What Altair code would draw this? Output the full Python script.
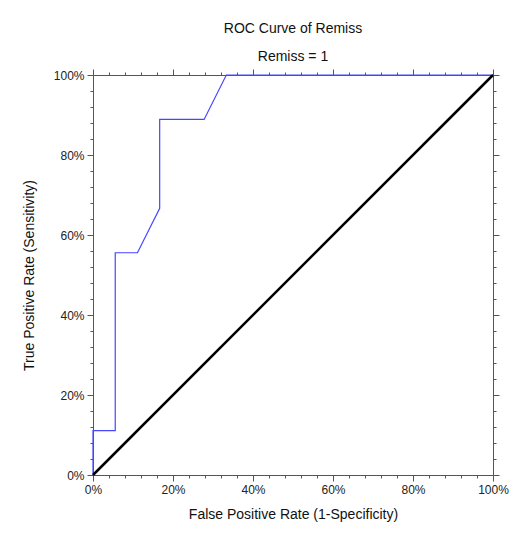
import altair as alt
import pandas as pd

# ROC curve points (False Positive Rate, True Positive Rate)
fpr = [0.0, 0.0, 0.0556, 0.0556, 0.1111, 0.1667, 0.1667, 0.2778, 0.3333, 1.0]
tpr = [0.0, 0.1111, 0.1111, 0.5556, 0.5556, 0.6667, 0.8889, 0.8889, 1.0, 1.0]
# reference diagonal
diag_x = [0.0, 1.0]
diag_y = [0.0, 1.0]
# tick positions (major every 20%, minor every 4%)
tick_values = [0.0, 0.04, 0.08, 0.12, 0.16, 0.2, 0.24, 0.28, 0.32, 0.36, 0.4,
               0.44, 0.48, 0.52, 0.56, 0.6, 0.64, 0.68, 0.72, 0.76, 0.8,
               0.84, 0.88, 0.92, 0.96, 1.0]

roc_df = pd.DataFrame({"fpr": fpr, "tpr": tpr, "idx": list(range(len(fpr)))})
diag_df = pd.DataFrame({"fpr": diag_x, "tpr": diag_y, "idx": [0, 1]})

FONT = "Liberation Sans"
AXC = "#555555"
is_major = "abs(datum.value*5 - round(datum.value*5)) < 0.001"
tick_size = {"condition": {"test": is_major, "value": 6}, "value": 3}
label_expr = f"{is_major} ? format(datum.value, '.0%') : ''"

common = dict(values=tick_values, grid=False, domainColor=AXC, tickColor=AXC,
              tickSize=tick_size, labelFont=FONT, labelFontSize=12,
              labelColor="#222222", titleFont=FONT, titleFontSize=14,
              titleFontWeight="normal", titleColor="#111111", domainWidth=1,
              labelFlush=False, labelOverlap=False)

xscale = alt.Scale(domain=[0, 1], nice=False, zero=False)
yscale = alt.Scale(domain=[0, 1], nice=False, zero=False)

roc = alt.Chart(roc_df).mark_line(color="#4646ff", strokeWidth=1.2).encode(
    x=alt.X("fpr:Q", scale=xscale,
            axis=alt.Axis(orient="bottom", labelExpr=label_expr, labelPadding=3,
                          title="False Positive Rate (1-Specificity)",
                          titlePadding=12, **common)),
    y=alt.Y("tpr:Q", scale=yscale,
            axis=alt.Axis(orient="left", labelExpr=label_expr, labelPadding=3,
                          title="True Positive Rate (Sensitivity)",
                          titlePadding=17, **common)),
    order="idx:Q",
)

diag = alt.Chart(diag_df).mark_line(color="black", strokeWidth=2.5).encode(
    x=alt.X("fpr:Q", scale=xscale,
            axis=alt.Axis(orient="top", labels=False, title="", **common)),
    y=alt.Y("tpr:Q", scale=yscale,
            axis=alt.Axis(orient="right", labels=False, title="", **common)),
    order="idx:Q",
)

chart = alt.layer(roc, diag).resolve_axis(x="independent", y="independent").properties(
    width=400,
    height=400,
    autosize=alt.AutoSizeParams(type="none"),
    padding={"left": 93, "top": 75, "right": 21, "bottom": 60},
    background="white",
    title=alt.TitleParams(text="ROC Curve of Remiss", subtitle="Remiss = 1",
                          font=FONT, subtitleFont=FONT, fontSize=14,
                          subtitleFontSize=14, fontWeight="normal",
                          color="#111111", subtitleColor="#111111",
                          anchor="middle", offset=5, subtitlePadding=14),
).configure_view(stroke=None)

chart.save("out.html", embed_options={"renderer": "svg", "actions": False})
